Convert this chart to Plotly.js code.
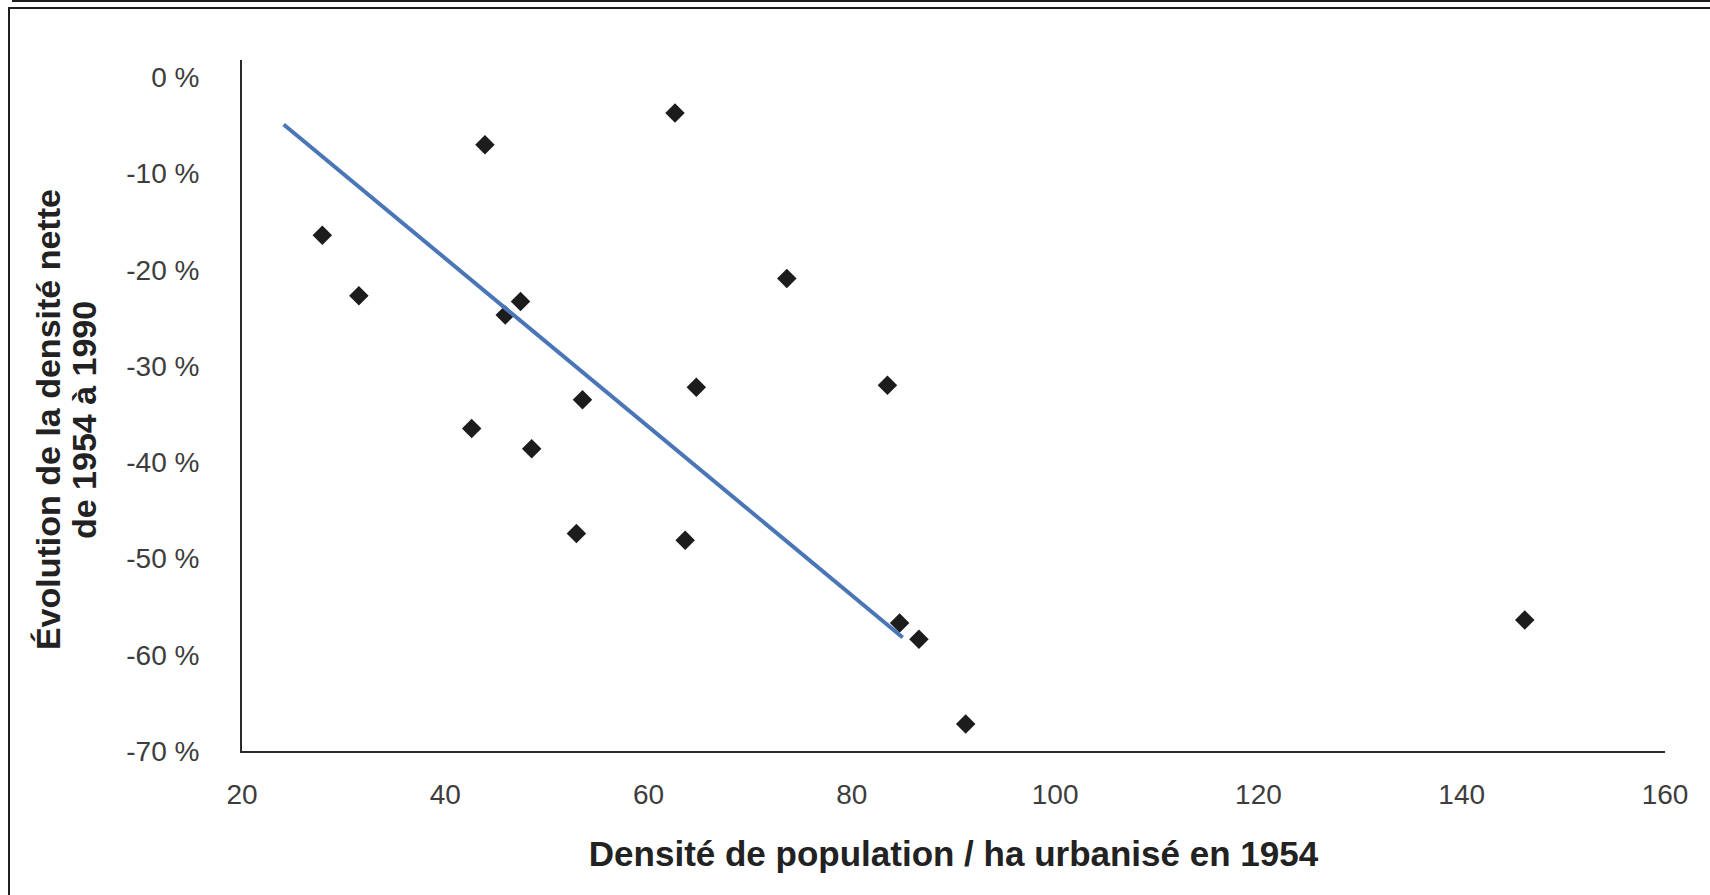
<!DOCTYPE html>
<html>
<head>
<meta charset="utf-8">
<script src="https://cdn.plot.ly/plotly-3.0.1.min.js"></script>
<style>
  html, body { margin: 0; padding: 0; background: #ffffff; }
  #wrap { position: relative; width: 1710px; height: 895px; overflow: hidden; }
  #chart { position: absolute; left: 0; top: 0; width: 1710px; height: 895px; }
  #frameTop { position: absolute; left: 12px; top: 0px; right: 0; border-top: 2px solid #1e1e1e; }
  #frameBox { position: absolute; left: 8px; top: 7px; right: -4px; bottom: -4px;
              border-top: 2px solid #1e1e1e; border-left: 2px solid #1e1e1e; pointer-events: none; }
</style>
</head>
<body>
<div id="wrap">
  <div id="chart"></div>
  <div id="frameTop"></div>
  <div id="frameBox"></div>
</div>
<script>
// Densité de population / ha urbanisé en 1954
const densite1954 = [27.9, 31.5, 43.9, 45.9, 47.4, 42.6, 48.5, 53.5, 52.9, 62.6, 63.6, 64.7, 73.6, 83.5, 84.7, 86.6, 91.2, 146.2];
// Évolution de la densité nette de 1954 à 1990 (%)
const evolution = [-16.4, -22.7, -7.0, -24.7, -23.3, -36.5, -38.6, -33.5, -47.4, -3.7, -48.1, -32.2, -20.9, -32.0, -56.7, -58.4, -67.2, -56.4];
// Trend line end values
const trendX = [24.1, 85.0];
const trendY = [-4.9, -58.2];
// Tick labels
const xTickVals = [20, 40, 60, 80, 100, 120, 140, 160];
const yTickVals = [0, -10, -20, -30, -40, -50, -60, -70];
const yTickText = ["0 %", "-10 %", "-20 %", "-30 %", "-40 %", "-50 %", "-60 %", "-70 %"];
// Axis titles
const xTitle = 'Densité de population / ha urbanisé en 1954';
const yTitleLines = ['Évolution de la densité nette', 'de 1954 à 1990'];

const FONT = '"Liberation Sans", Arial, Helvetica, sans-serif';
const TITLE_FONT = { family: FONT, size: 34, color: '#222222', weight: 'bold' };

const traces = [
  {
    type: 'scatter', mode: 'markers',
    x: densite1954, y: evolution,
    marker: { symbol: 'diamond', size: 15, color: '#1c1c1c', line: { width: 0 } },
    showlegend: false, hoverinfo: 'x+y'
  },
  {
    type: 'scatter', mode: 'lines',
    x: trendX, y: trendY,
    line: { color: '#4a76b8', width: 4 },
    showlegend: false, hoverinfo: 'skip'
  }
];

const layout = {
  width: 1710, height: 895,
  margin: { l: 242, r: 45, t: 60, b: 144, pad: 0 },
  paper_bgcolor: '#ffffff', plot_bgcolor: '#ffffff',
  font: { family: FONT, color: '#3a3a3a' },
  xaxis: {
    range: [20, 160],
    tickmode: 'array', tickvals: xTickVals,
    showgrid: false, zeroline: false,
    showline: true, linecolor: '#2a2a2a', linewidth: 2,
    ticks: '', ticklabelstandoff: 17,
    tickfont: { family: FONT, size: 28, color: '#3d3d3d' },
    title: { text: xTitle,
             font: { family: FONT, size: 35, color: '#222222', weight: 'bold' },
             standoff: 33 },
    automargin: false, fixedrange: true
  },
  yaxis: {
    range: [-70, 1.8],
    tickmode: 'array', tickvals: yTickVals, ticktext: yTickText,
    showgrid: false, zeroline: false,
    showline: true, linecolor: '#2a2a2a', linewidth: 2,
    ticks: '', ticklabelstandoff: 35,
    tickfont: { family: FONT, size: 28, color: '#3d3d3d' },
    automargin: false, fixedrange: true
  },
  annotations: [
    { text: yTitleLines[0], textangle: -90, xref: 'paper', yref: 'paper',
      x: -0.1363, y: 0.479, xanchor: 'center', yanchor: 'middle',
      showarrow: false, font: TITLE_FONT },
    { text: yTitleLines[1], textangle: -90, xref: 'paper', yref: 'paper',
      x: -0.111, y: 0.479, xanchor: 'center', yanchor: 'middle',
      showarrow: false, font: TITLE_FONT }
  ],
  showlegend: false
};

Plotly.newPlot('chart', traces, layout, { staticPlot: true, displayModeBar: false });
</script>
</body>
</html>
